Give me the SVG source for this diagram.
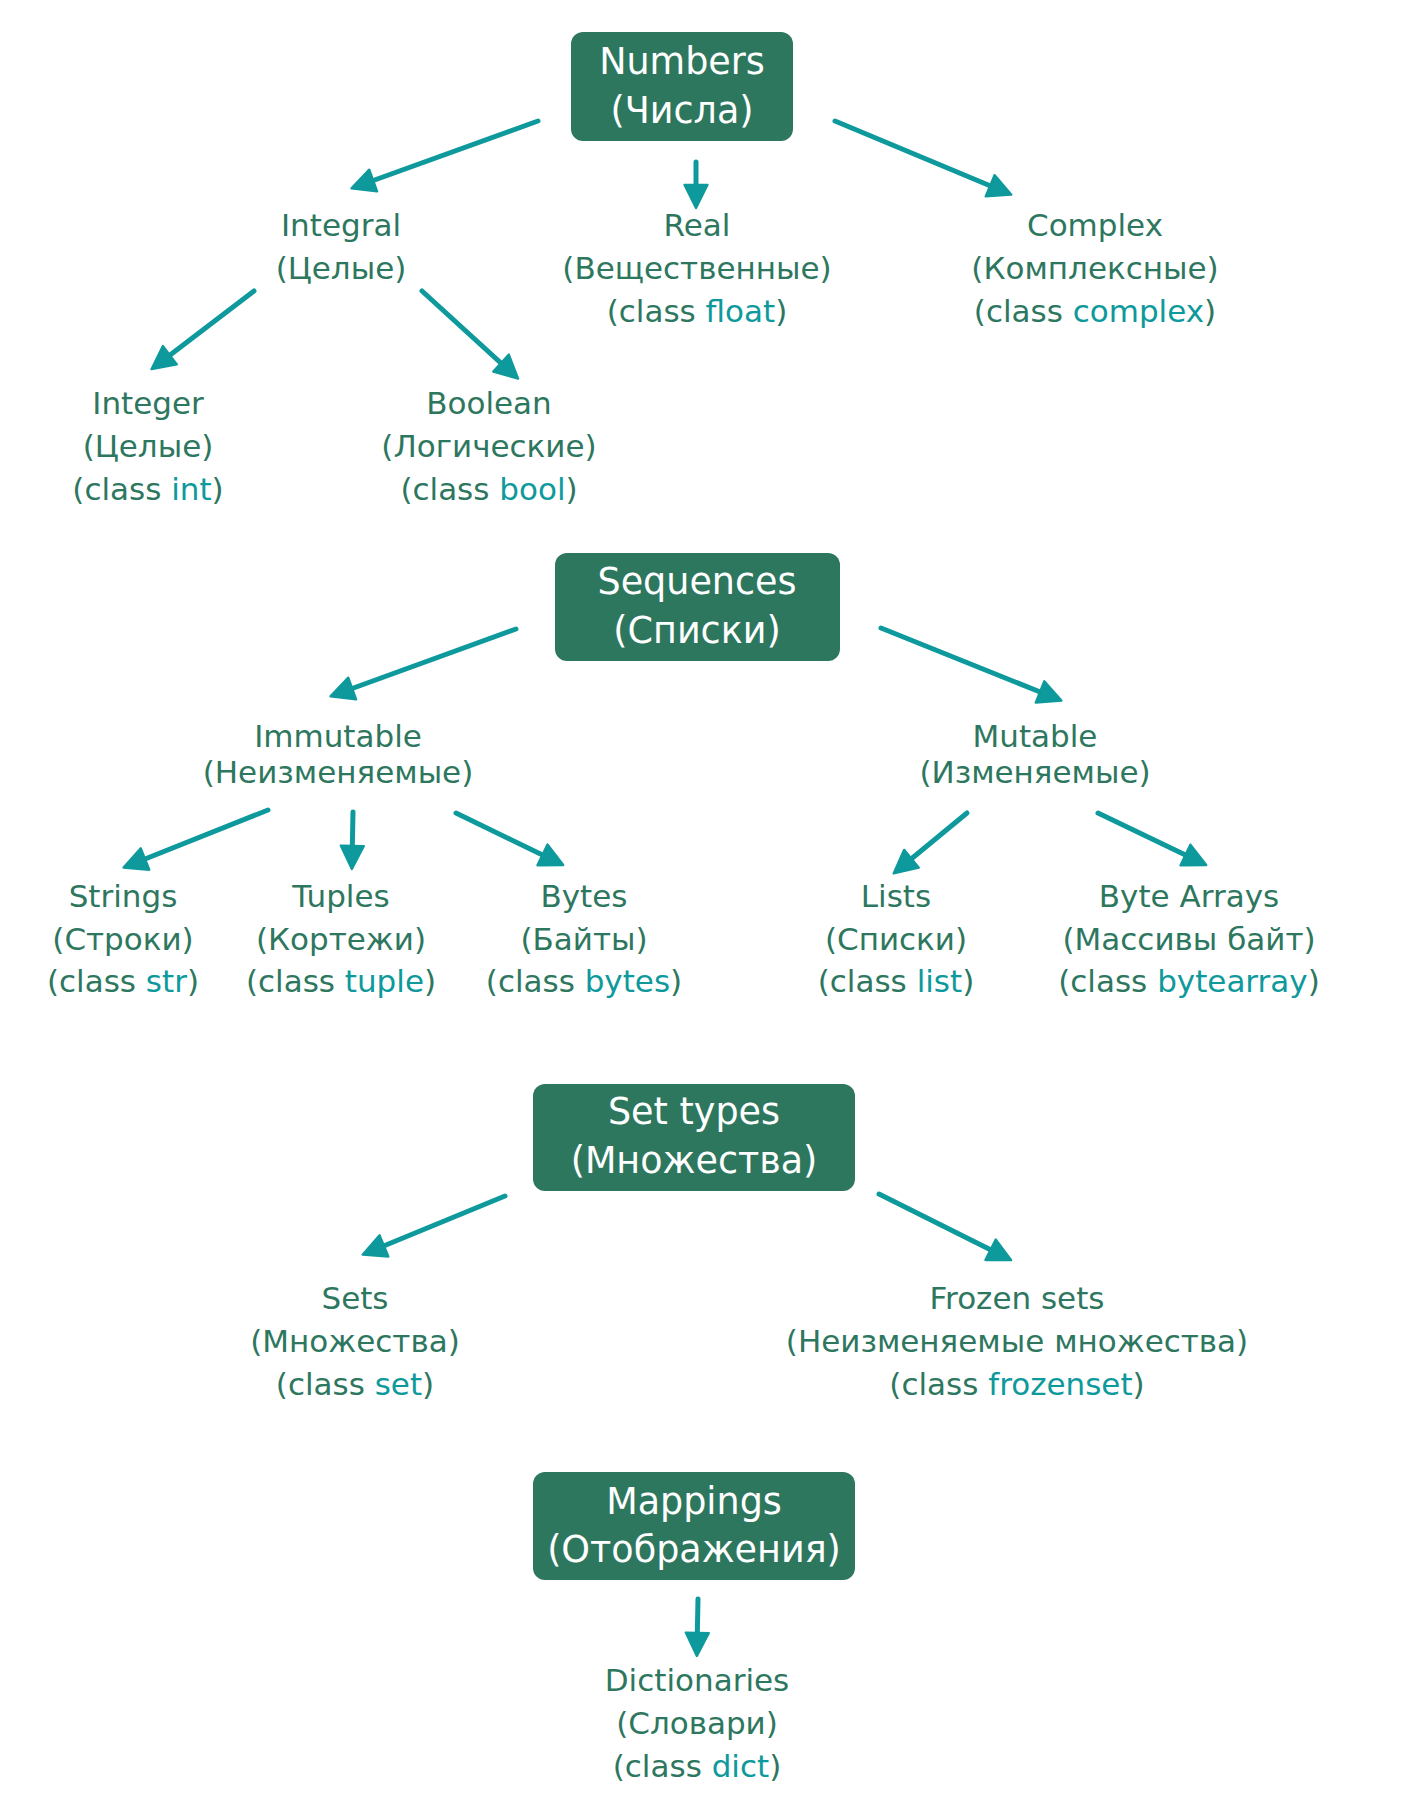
<svg xmlns="http://www.w3.org/2000/svg" width="1404" height="1813" viewBox="0 0 1404 1813">
<style>
.box{fill:#2E775F}
.bt{font-family:"DejaVu Sans","Noto Sans",sans-serif;font-size:36.5px;fill:#FFFFFF;text-anchor:middle}
.lt{font-family:"DejaVu Sans","Noto Sans",sans-serif;font-size:31px;fill:#2E775F;text-anchor:middle}
.cl{fill:#0E999C}
.ar{stroke:#0E999C;stroke-width:5;stroke-linecap:round;fill:none;marker-end:url(#ah)}
</style>
<defs>
<marker id="ah" markerUnits="userSpaceOnUse" markerWidth="30" markerHeight="30" viewBox="-2 -2 26 26" refX="14" refY="10" orient="auto">
<path d="M0,0 L20,10 L0,20 z" fill="#0E999C" stroke="#0E999C" stroke-width="2" stroke-linejoin="round"/>
</marker>
</defs>
<rect width="1404" height="1813" fill="#FFFFFF"/>
<g id="connectors">
<line class="ar" x1="538" y1="121" x2="358" y2="186"/>
<line class="ar" x1="696" y1="162" x2="696" y2="201"/>
<line class="ar" x1="835" y1="121" x2="1005" y2="192"/>
<line class="ar" x1="254" y1="291" x2="157" y2="365"/>
<line class="ar" x1="422" y1="291" x2="513" y2="374"/>
<line class="ar" x1="516" y1="629" x2="337" y2="694"/>
<line class="ar" x1="881" y1="628" x2="1055" y2="698"/>
<line class="ar" x1="268" y1="810" x2="130" y2="865"/>
<line class="ar" x1="353" y1="812" x2="352" y2="862"/>
<line class="ar" x1="456" y1="813" x2="557" y2="862"/>
<line class="ar" x1="967" y1="813" x2="899" y2="869"/>
<line class="ar" x1="1098" y1="813" x2="1200" y2="862"/>
<line class="ar" x1="505" y1="1196" x2="369" y2="1252"/>
<line class="ar" x1="879" y1="1194" x2="1005" y2="1257"/>
<line class="ar" x1="698" y1="1599" x2="697" y2="1649"/>
</g>
<g id="numbers">
<rect class="box" x="571" y="32" width="222" height="109" rx="12"/>
<text class="bt" x="682" y="74">Numbers</text>
<text class="bt" x="682" y="123">(Числа)</text>
</g>
<g id="integral">
<text class="lt" x="341" y="236">Integral</text>
<text class="lt" x="341" y="279">(Целые)</text>
</g>
<g id="real">
<text class="lt" x="697" y="236">Real</text>
<text class="lt" x="697" y="279">(Вещественные)</text>
<text class="lt" x="697" y="322">(class <tspan class="cl">float</tspan>)</text>
</g>
<g id="complex">
<text class="lt" x="1095" y="236">Complex</text>
<text class="lt" x="1095" y="279">(Комплексные)</text>
<text class="lt" x="1095" y="322">(class <tspan class="cl">complex</tspan>)</text>
</g>
<g id="integer">
<text class="lt" x="148" y="414">Integer</text>
<text class="lt" x="148" y="457">(Целые)</text>
<text class="lt" x="148" y="500">(class <tspan class="cl">int</tspan>)</text>
</g>
<g id="boolean">
<text class="lt" x="489" y="414">Boolean</text>
<text class="lt" x="489" y="457">(Логические)</text>
<text class="lt" x="489" y="500">(class <tspan class="cl">bool</tspan>)</text>
</g>
<g id="sequences">
<rect class="box" x="555" y="553" width="285" height="108" rx="12"/>
<text class="bt" x="697" y="594">Sequences</text>
<text class="bt" x="697" y="643">(Списки)</text>
</g>
<g id="immutable">
<text class="lt" x="338" y="747">Immutable</text>
<text class="lt" x="338" y="783">(Неизменяемые)</text>
</g>
<g id="mutable">
<text class="lt" x="1035" y="747">Mutable</text>
<text class="lt" x="1035" y="783">(Изменяемые)</text>
</g>
<g id="strings">
<text class="lt" x="123" y="907">Strings</text>
<text class="lt" x="123" y="950">(Строки)</text>
<text class="lt" x="123" y="992">(class <tspan class="cl">str</tspan>)</text>
</g>
<g id="tuples">
<text class="lt" x="341" y="907">Tuples</text>
<text class="lt" x="341" y="950">(Кортежи)</text>
<text class="lt" x="341" y="992">(class <tspan class="cl">tuple</tspan>)</text>
</g>
<g id="bytes">
<text class="lt" x="584" y="907">Bytes</text>
<text class="lt" x="584" y="950">(Байты)</text>
<text class="lt" x="584" y="992">(class <tspan class="cl">bytes</tspan>)</text>
</g>
<g id="lists">
<text class="lt" x="896" y="907">Lists</text>
<text class="lt" x="896" y="950">(Списки)</text>
<text class="lt" x="896" y="992">(class <tspan class="cl">list</tspan>)</text>
</g>
<g id="bytearrays">
<text class="lt" x="1189" y="907">Byte Arrays</text>
<text class="lt" x="1189" y="950">(Массивы байт)</text>
<text class="lt" x="1189" y="992">(class <tspan class="cl">bytearray</tspan>)</text>
</g>
<g id="settypes">
<rect class="box" x="533" y="1084" width="322" height="107" rx="12"/>
<text class="bt" x="694" y="1124">Set types</text>
<text class="bt" x="694" y="1173">(Множества)</text>
</g>
<g id="sets">
<text class="lt" x="355" y="1309">Sets</text>
<text class="lt" x="355" y="1352">(Множества)</text>
<text class="lt" x="355" y="1395">(class <tspan class="cl">set</tspan>)</text>
</g>
<g id="frozensets">
<text class="lt" x="1017" y="1309">Frozen sets</text>
<text class="lt" x="1017" y="1352">(Неизменяемые множества)</text>
<text class="lt" x="1017" y="1395">(class <tspan class="cl">frozenset</tspan>)</text>
</g>
<g id="mappings">
<rect class="box" x="533" y="1472" width="322" height="108" rx="12"/>
<text class="bt" x="694" y="1514">Mappings</text>
<text class="bt" x="694" y="1562">(Отображения)</text>
</g>
<g id="dictionaries">
<text class="lt" x="697" y="1691">Dictionaries</text>
<text class="lt" x="697" y="1734">(Словари)</text>
<text class="lt" x="697" y="1777">(class <tspan class="cl">dict</tspan>)</text>
</g>
</svg>
